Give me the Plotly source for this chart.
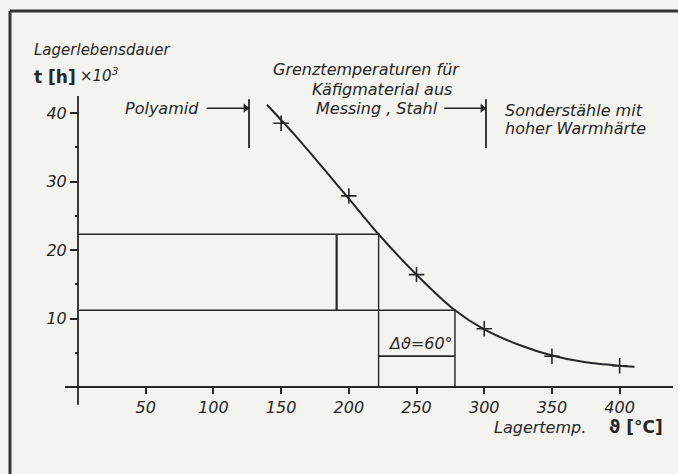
import plotly.graph_objects as go

# ---- data ----
curve_temp = [139.6, 160, 180, 200, 222, 250, 278.4, 300, 325, 350, 375, 400, 411]
curve_life = [41.2, 36.8, 32.2, 27.5, 22.3, 16.4, 11.2, 8.4, 6.2, 4.6, 3.6, 3.1, 2.95]
meas_temp = [150, 200, 250, 300, 350, 400]
meas_life = [38.5, 27.9, 16.4, 8.5, 4.5, 3.1]
x_ticks = [50, 100, 150, 200, 250, 300, 350, 400]
y_ticks = [10, 20, 30, 40]
y_minor = [5, 15, 25, 35]
t_high, t_low = 222, 278.4          # temperatures read for the two life levels
life_high, life_low = 22.3, 11.2
t_polyamid, t_stahl = 126.3, 301.3  # limit temperatures (bars)

INK = "#262626"
BG = "#f3f3f0"
FONT = "DejaVu Sans"

W, H = 678, 474
X0, X1 = -57.6, 443.1   # data range covering the full canvas
Y0, Y1 = -12.70, 56.50

fig = go.Figure()

def seg(xs, ys, width=1.6):
    fig.add_trace(go.Scatter(x=xs, y=ys, mode="lines", line=dict(color=INK, width=width),
                             hoverinfo="skip", showlegend=False))

# axes lines
seg([-9.6, 439.4], [0, 0], 1.8)
seg([0, 0], [-2.6, 42.5], 1.8)

# reading lines
seg([0, t_high, t_high], [life_high, life_high, 0], 1.4)
seg([0, t_low, t_low], [life_low, life_low, 0], 1.4)
seg([191, 191], [life_high, life_low], 2.2)
seg([t_high, t_low], [4.5, 4.5], 1.8)

# limit bars
seg([t_polyamid, t_polyamid], [42.0, 34.9], 1.8)
seg([t_stahl, t_stahl], [42.0, 34.9], 1.8)

# curve
fig.add_trace(go.Scatter(x=curve_temp, y=curve_life, mode="lines",
                         line=dict(color=INK, width=2, shape="spline", smoothing=0.8),
                         hoverinfo="skip", showlegend=False))
fig.add_trace(go.Scatter(x=meas_temp, y=meas_life, mode="markers",
                         marker=dict(symbol="cross-thin", size=11, line=dict(color=INK, width=1.6)),
                         hoverinfo="skip", showlegend=False))

def txt(x, y, s, size=16, xanchor="left", style="italic", weight="normal"):
    fig.add_annotation(x=x, y=y, text=s, showarrow=False, xanchor=xanchor, yanchor="middle",
                       font=dict(family=FONT, size=size, color=INK, style=style, weight=weight))

txt(-34.0, 49.2, "Lagerlebensdauer", 15)
txt(-34.0, 45.3, "t [h]", 17, style="normal", weight="bold")
txt(0.0, 45.6, "×10<sup>3</sup>", 15)
txt(33.0, 40.7, "Polyamid", 16)
txt(213.0, 46.3, "Grenztemperaturen für", 16, "center")
txt(224.5, 43.5, "Käfigmaterial aus", 16, "center")
txt(220.5, 40.7, "Messing , Stahl", 16, "center")
txt(313.9, 40.4, "Sonderstähle mit", 16)
txt(313.9, 37.8, "hoher Warmhärte", 16)
txt(253.3, 6.4, "Δϑ=60°", 16, "center")
txt(305.5, -5.84, "Lagertemp.", 16)
txt(391.0, -5.84, "ϑ [°C]", 17, style="normal", weight="bold")

def arrow(x_tail, x_head, y):
    seg([x_tail, x_head], [y, y], 1.5)
    fig.add_trace(go.Scatter(x=[x_head - 2.5], y=[y], mode="markers",
                             marker=dict(symbol="triangle-right", size=8, color=INK),
                             hoverinfo="skip", showlegend=False))

arrow(95.0, t_polyamid, 40.7)
arrow(270.5, t_stahl, 40.7)

# frame
fig.add_shape(type="line", xref="paper", yref="paper", x0=10 / W, x1=1.0, y0=1 - 11 / H, y1=1 - 11 / H,
              line=dict(color="#333333", width=3))
fig.add_shape(type="line", xref="paper", yref="paper", x0=10 / W, x1=10 / W, y0=0, y1=1 - 11 / H,
              line=dict(color="#333333", width=3))

tickfont = dict(family=FONT, size=16, color=INK, style="italic")
fig.update_layout(
    width=W, height=H, margin=dict(l=0, r=0, t=0, b=0, pad=0),
    paper_bgcolor=BG, plot_bgcolor=BG, showlegend=False,
    xaxis=dict(range=[X0, X1], anchor="free", position=(H - 387) / H,
               showgrid=False, zeroline=False, showline=False, automargin=False,
               tickmode="array", tickvals=x_ticks, ticks="outside", ticklen=6, tickwidth=1.5,
               tickcolor=INK, tickfont=tickfont),
    yaxis=dict(range=[Y0, Y1], anchor="free", position=78 / W,
               showgrid=False, zeroline=False, showline=False, automargin=False,
               tickmode="array", tickvals=y_ticks, ticks="outside", ticklen=8, tickwidth=1.5,
               tickcolor=INK, tickfont=tickfont,
               minor=dict(tickvals=y_minor, ticks="outside", ticklen=3, tickwidth=1.5, tickcolor=INK)),
)

fig.write_html("out.html", config={"displayModeBar": False},
               post_script="document.body.style.margin='0px';document.body.style.background='%s';" % BG)
